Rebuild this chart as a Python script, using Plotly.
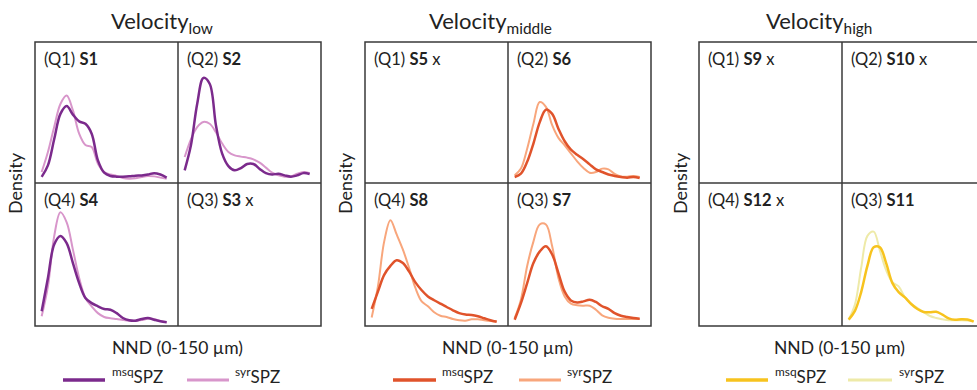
import plotly.graph_objects as go

# ---------------- data ----------------
nnd = [0, 7.5, 15, 22.5, 30, 37.5, 45, 52.5, 60, 67.5, 75, 82.5, 90, 97.5,
       105, 112.5, 120, 127.5, 135, 142.5, 150]

s1_msq = [4.3, 12.5, 31, 49, 54.6, 48.5, 43.7, 42, 35, 16, 7.3, 5, 4.5, 4.5, 4.7, 5.2, 5.4, 6, 7, 6, 3.8]
s1_syr = [7.8, 22, 39.7, 56, 62, 51.5, 35, 27, 25.5, 13.7, 7.8, 6, 5, 3.5, 3, 3.3, 4.3, 5, 4.7, 3.8, 3]
s2_msq = [9, 26.7, 56, 74.5, 70.4, 41, 20.8, 12, 9, 10.6, 13.5, 13.5, 10, 7, 6, 6.6, 5.4, 4.5, 5.4, 7, 6.4]
s2_syr = [18.4, 31, 39.7, 43.3, 42, 36, 28, 22, 19.6, 18.7, 18, 16.8, 14.4, 10.9, 7.3, 5.4, 4.5, 4.7, 6.6, 7.8, 7]
s4_msq = [10.3, 33.6, 57, 63, 58, 44, 30, 19.6, 16, 13.8, 11.9, 11.4, 9, 5.6, 4, 3.7, 4.9, 5.6, 4.4, 3.3, 2.6]
s4_syr = [6.8, 27.7, 62.7, 79.5, 72.5, 53.4, 33.6, 19.6, 13.8, 9, 6.3, 5.4, 4.9, 4.2, 3.7, 3.7, 4.2, 5.1, 4.9, 3.5, 2.6]
s6_msq = [4.3, 6.6, 15, 28, 43, 52, 49, 38.5, 29.6, 23.6, 20, 16.8, 13.2, 9.7, 7.8, 6, 5, 4.3, 3.8, 4.3, 3.5]
s6_syr = [5.4, 10.2, 24.3, 42, 57.4, 54, 41, 32, 26.7, 21, 15.4, 10.6, 7.3, 7.8, 10.2, 9.7, 6.4, 4.7, 4.5, 5, 4.3]
s8_msq = [12, 24, 35.7, 42, 46, 44, 38, 30.5, 25, 20.7, 18, 15.6, 13.3, 11, 9, 8, 7.7, 6.8, 5.4, 4, 3]
s8_syr = [6, 27.7, 59, 74, 64, 53.4, 40.5, 26.6, 17.2, 13.8, 9.6, 7.2, 6.3, 4.9, 4, 3.7, 4.7, 4.7, 4, 3.5, 3.3]
s7_msq = [4.4, 16, 30, 44, 52, 55.7, 50, 37, 24, 17.9, 16.5, 17.2, 18.4, 16.8, 13.8, 12, 9, 7.2, 6.3, 5.6, 5.1]
s7_syr = [5.5, 18.4, 42, 59, 71, 71, 55.7, 33.6, 20.7, 15.6, 14.5, 14.2, 14.2, 11.4, 7.5, 5.8, 5.1, 4.9, 4.9, 4.9, 4.9]
s11_msq = [4.5, 10.6, 23.7, 42, 55, 55, 44, 30, 23.7, 20, 15.4, 11.9, 9.8, 9.6, 10, 7.9, 5.3, 4.3, 4.7, 4.5, 3]
s11_syr = [4.5, 15, 40.7, 63, 66, 52.6, 39, 30.7, 27.7, 20, 15.6, 12.5, 9.7, 7, 5.6, 4.7, 4, 4, 4, 3.8, 3.5]

panel_titles = ["Velocity<sub>low</sub>", "Velocity<sub>middle</sub>", "Velocity<sub>high</sub>"]
series_names = ["<sup>msq</sup>SPZ", "<sup>syr</sup>SPZ"]
x_label = "NND (0-150 µm)"
y_label = "Density"

# cells per panel: (quadrant, sample, missing, msq, syr) in order Q1, Q2, Q4, Q3
cells = [
    [("Q1", "S1", False, s1_msq, s1_syr), ("Q2", "S2", False, s2_msq, s2_syr),
     ("Q4", "S4", False, s4_msq, s4_syr), ("Q3", "S3", True, None, None)],
    [("Q1", "S5", True, None, None), ("Q2", "S6", False, s6_msq, s6_syr),
     ("Q4", "S8", False, s8_msq, s8_syr), ("Q3", "S7", False, s7_msq, s7_syr)],
    [("Q1", "S9", True, None, None), ("Q2", "S10", True, None, None),
     ("Q4", "S12", True, None, None), ("Q3", "S11", False, s11_msq, s11_syr)],
]
colors = [("#7B2A8C", "#D896CB"), ("#E0532B", "#F8A67C"), ("#F7C31E", "#EEEAA8")]

# ---------------- layout geometry (pixels) ----------------
W, H = 977, 390
panel_left = [35, 365, 699]
cell_w = 143
top, mid, bottom = 42, 183, 326
title_cx = [162, 491, 819]
ylab_x = [15, 345, 680]
xlab_cx = [177, 507, 839]
leg_x = [(63, 105, 110, 187, 229, 233), (393, 436, 440, 519, 561, 565), (726, 768, 773, 848, 892, 897)]
leg_y = 380
FONT = "Lato, Open Sans, sans-serif"
TXT = "#222222"
UNITS_PER_PX = 1.2

fig = go.Figure()
layout = {}
shapes = []
annotations = []

def px(x):
    return x / W

def py(y):
    return 1 - y / H

k = 0
for p in range(3):
    L = panel_left[p]
    R = L + 2 * cell_w
    boxes = [(L, L + cell_w, top, mid), (L + cell_w, R, top, mid),
             (L, L + cell_w, mid, bottom), (L + cell_w, R, mid, bottom)]
    for c, (q, s, missing, msq, syr) in enumerate(cells[p]):
        k += 1
        x0, x1, y0, y1 = boxes[c]
        x1c = min(x1, W)
        xa = "xaxis" if k == 1 else f"xaxis{k}"
        ya = "yaxis" if k == 1 else f"yaxis{k}"
        layout[xa] = dict(domain=[px(x0), px(x1c)], range=[-8, -8 + (x1c - x0) * UNITS_PER_PX],
                          anchor=f"y{k}" if k > 1 else "y", visible=False, fixedrange=True)
        layout[ya] = dict(domain=[py(y1), py(y0)], range=[0, 100],
                          anchor=f"x{k}" if k > 1 else "x", visible=False, fixedrange=True)
        if not missing:
            for vals, col, w in ((syr, colors[p][1], 2), (msq, colors[p][0], 2.5)):
                fig.add_trace(go.Scatter(x=nnd, y=vals, mode="lines",
                                         line=dict(color=col, width=w, shape="spline", smoothing=1.0),
                                         xaxis=f"x{k}" if k > 1 else "x", yaxis=f"y{k}" if k > 1 else "y",
                                         showlegend=False, hoverinfo="skip"))
        label = f"({q}) <b>{s}</b>" + (" x" if missing else "")
        annotations.append(dict(text=label, x=px(x0 + 7), y=py(y0 + 17), xref="paper", yref="paper",
                                xanchor="left", yanchor="middle", showarrow=False,
                                font=dict(size=16.5, color=TXT, family=FONT)))
    # borders
    lc = dict(color="#3a3a3a", width=1.5)
    shapes.append(dict(type="rect", xref="paper", yref="paper", x0=px(L), x1=px(R), y0=py(bottom), y1=py(top), line=lc))
    shapes.append(dict(type="line", xref="paper", yref="paper", x0=px(L + cell_w), x1=px(L + cell_w), y0=py(bottom), y1=py(top), line=lc))
    shapes.append(dict(type="line", xref="paper", yref="paper", x0=px(L), x1=px(R), y0=py(mid), y1=py(mid), line=lc))
    # titles and axis labels
    annotations.append(dict(text=panel_titles[p], x=px(title_cx[p]), y=py(22), xref="paper", yref="paper",
                            xanchor="center", yanchor="middle", showarrow=False,
                            font=dict(size=22, color=TXT, family=FONT)))
    annotations.append(dict(text=y_label, x=px(ylab_x[p]), y=py(mid), xref="paper", yref="paper",
                            xanchor="center", yanchor="middle", showarrow=False, textangle=-90,
                            font=dict(size=18, color=TXT, family=FONT)))
    annotations.append(dict(text=x_label, x=px(xlab_cx[p]), y=py(347), xref="paper", yref="paper",
                            xanchor="center", yanchor="middle", showarrow=False,
                            font=dict(size=17.5, color=TXT, family=FONT)))
    # legend
    a0, a1, at, b0, b1, bt = leg_x[p]
    for (l0, l1, lt, col, w, nm) in ((a0, a1, at, colors[p][0], 3.5, series_names[0]),
                                      (b0, b1, bt, colors[p][1], 3, series_names[1])):
        shapes.append(dict(type="line", xref="paper", yref="paper", x0=px(l0), x1=px(l1),
                           y0=py(leg_y), y1=py(leg_y), line=dict(color=col, width=w)))
        annotations.append(dict(text=nm, x=px(lt), y=py(389), xref="paper", yref="paper",
                                xanchor="left", yanchor="bottom", showarrow=False,
                                font=dict(size=17, color=TXT, family=FONT)))

fig.update_layout(width=W, height=H, margin=dict(l=0, r=0, t=0, b=0),
                  paper_bgcolor="white", plot_bgcolor="rgba(0,0,0,0)",
                  shapes=shapes, annotations=annotations, showlegend=False, **layout)

fig.write_html("out.html", config={"displayModeBar": False},
               post_script="document.body.style.margin='0';document.body.style.padding='0';")
